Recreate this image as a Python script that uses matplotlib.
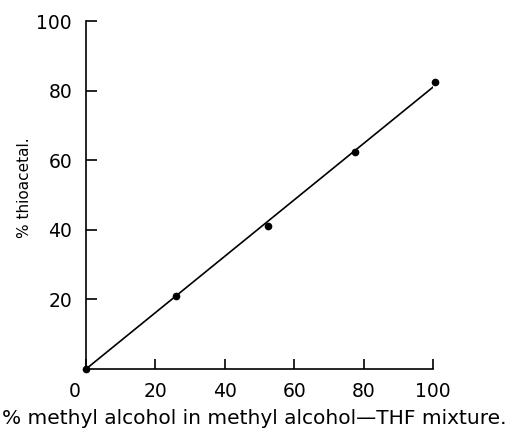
import numpy as np
import matplotlib
matplotlib.use("Agg")
import matplotlib.pyplot as plt
from matplotlib.transforms import ScaledTranslation

# measured points (% methanol, % thioacetal)
meoh = [0, 26, 52.5, 77.5, 100.5]
thio = [0, 21, 41, 62.5, 82.5]

# drawn straight line
fit_x = [0, 100]
fit_y = [0, 81]

xticks = [0, 20, 40, 60, 80, 100]
yticks = [20, 40, 60, 80, 100]

plt.rcParams['font.family'] = ['DejaVu Sans']

fig = plt.figure(figsize=(5.19, 4.37), dpi=100)
ax = fig.add_axes([0.1657, 0.1556, 0.6686, 0.7963])

ax.plot(fit_x, fit_y, color='black', lw=1.2)
ax.plot(meoh, thio, 'o', color='black', ms=4.5, clip_on=False)

ax.set_xlim(0, 100)
ax.set_ylim(0, 100)
ax.spines['top'].set_visible(False)
ax.spines['right'].set_visible(False)
for s in ['left', 'bottom']:
    ax.spines[s].set_linewidth(1.2)

ax.set_xticks(xticks)
ax.set_yticks(yticks)
ax.tick_params(axis='x', direction='in', length=7, width=1.2, pad=9, labelsize=13.5)
ax.tick_params(axis='y', direction='in', length=8, width=1.2, pad=10, labelsize=13.5)

# the "0" label sits left of the corner
lab0 = ax.get_xticklabels()[0]
lab0.set_transform(lab0.get_transform() + ScaledTranslation(-11/100, 0, fig.dpi_scale_trans))

fig.text(25/519, 1 - 188/437, '% thioacetal.', rotation=90, ha='center', va='center', fontsize=11)
fig.text(507/519, 1 - 418/437, '% methyl alcohol in methyl alcohol\u2014THF mixture.',
         ha='right', va='center', fontsize=14.5)

fig.savefig('out.png', dpi=100)
